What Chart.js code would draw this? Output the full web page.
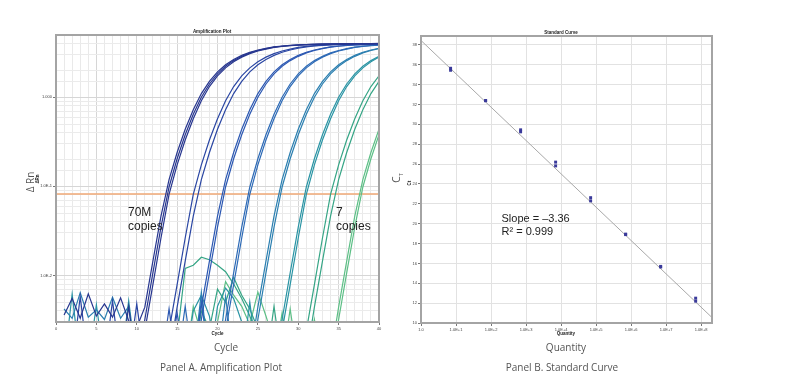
<!DOCTYPE html>
<html>
<head>
<meta charset="utf-8">
<script src="https://cdn.jsdelivr.net/npm/chart.js@4.4.0/dist/chart.umd.min.js"></script>
<style>
  html, body { margin: 0; padding: 0; background: #fff; }
  body { width: 791px; height: 379px; position: relative; overflow: hidden; font-family: "Open Sans", sans-serif; }
  canvas { position: absolute; top: 0; }
  #ampCanvas { left: 0; }
  #stdCanvas { left: 395px; }
  .lbl { position: absolute; white-space: nowrap; color: #555; font-size: 10px; line-height: 1; transform: translate(-50%, -50%); }
  .tiny { position: absolute; white-space: nowrap; font-family: "Liberation Sans", Arial, sans-serif; font-weight: bold; font-size: 4.5px; line-height: 1; color: #222; transform: translate(-50%, -50%); }
  .rot { transform: translate(-50%, -50%) rotate(-90deg); }
  .note { position: absolute; white-space: nowrap; font-family: "Liberation Sans", Arial, sans-serif; color: #222; }
</style>
</head>
<body>
<canvas id="ampCanvas" width="395" height="379"></canvas>
<canvas id="stdCanvas" width="396" height="379"></canvas>

<div class="tiny" style="left:212px; top:32px;">Amplification Plot</div>
<div class="tiny" style="left:561px; top:32.5px;">Standard Curve</div>
<div class="tiny" style="left:217.5px; top:334px;">Cycle</div>
<div class="tiny" style="left:566px; top:334px;">Quantity</div>
<div class="tiny rot" style="left:38px; top:178.5px;">&Delta;Rn</div>
<div class="tiny rot" style="left:410px; top:183px;">Ct</div>

<div class="lbl" style="left:226px; top:347px;">Cycle</div>
<div class="lbl" style="left:566px; top:347px;">Quantity</div>
<div class="lbl" style="left:221px; top:367px;">Panel A. Amplification Plot</div>
<div class="lbl" style="left:562px; top:367px;">Panel B. Standard Curve</div>
<div class="lbl rot" style="left:29.5px; top:182px;">&Delta; Rn</div>
<div class="lbl rot" style="left:397px; top:178px;">C<sub style="font-size:6px;">T</sub></div>

<div class="note" style="left:128px; top:204.5px; font-size:12px; line-height:14px;">70M<br>copies</div>
<div class="note" style="left:336px; top:204.5px; font-size:12px; line-height:14px;">7<br>copies</div>
<div class="note" style="left:501.5px; top:212px; font-size:11px; line-height:13px;">Slope = &ndash;3.36<br>R&sup2; = 0.999</div>

<script>
// ---- Panel A: amplification data (delta Rn per cycle) ----
var cycles = [1, 2, 3, 4, 5, 6, 7, 8, 9, 10, 11, 12, 13, 14, 15, 16, 17, 18, 19, 20,
              21, 22, 23, 24, 25, 26, 27, 28, 29, 30, 31, 32, 33, 34, 35, 36, 37, 38, 39, 40];

// 70M copies
var copies70Ma = [0.0036, 0.0055, 0.0033, 0.0062, 0.0035, 0.0048, 0.0034, 0.0056, 0.0031, 0.0026,
                  0.0044, 0.0145, 0.0462, 0.119, 0.240, 0.437, 0.724, 1.10, 1.51, 1.93,
                  2.32, 2.66, 2.95, 3.20, 3.39, 3.55, 3.67, 3.76, 3.82, 3.87,
                  3.90, 3.93, 3.95, 3.97, 3.98, 3.99, 4.00, 4.00, 4.01, 4.02];
var copies70Mb = [0.001, 0.001, 0.001, 0.001, 0.001, 0.001, 0.001, 0.001, 0.0045, 0.00088,
                  0.0032, 0.0107, 0.0349, 0.0983, 0.204, 0.380, 0.646, 1.00, 1.41, 1.83,
                  2.23, 2.58, 2.88, 3.15, 3.35, 3.51, 3.65, 3.74, 3.81, 3.86,
                  3.89, 3.92, 3.94, 3.96, 3.97, 3.98, 3.99, 4.00, 4.00, 4.01];
var copies70Mc = [0.001, 0.001, 0.001, 0.001, 0.001, 0.001, 0.001, 0.001, 0.001, 0.00063,
                  0.0024, 0.0079, 0.0263, 0.0813, 0.174, 0.331, 0.575, 0.912, 1.32, 1.74,
                  2.14, 2.51, 2.82, 3.09, 3.31, 3.47, 3.63, 3.72, 3.80, 3.85,
                  3.89, 3.92, 3.94, 3.96, 3.97, 3.98, 3.99, 4.00, 4.00, 4.00];
// 7M copies
var copies7Ma = [0.001, 0.001, 0.0058, 0.001, 0.001, 0.001, 0.0052, 0.001, 0.001, 0.0048,
                 0.001, 0.001, 0.00063, 0.0024, 0.0079, 0.0263, 0.0813, 0.174, 0.331, 0.575,
                 0.912, 1.32, 1.74, 2.14, 2.51, 2.82, 3.09, 3.31, 3.47, 3.63,
                 3.72, 3.80, 3.85, 3.89, 3.92, 3.94, 3.96, 3.97, 3.98, 3.99];
var copies7Mb = [0.001, 0.001, 0.001, 0.001, 0.001, 0.001, 0.001, 0.001, 0.001, 0.001,
                 0.001, 0.001, 0.0005, 0.0012, 0.0044, 0.0145, 0.0462, 0.119, 0.240, 0.437,
                 0.724, 1.10, 1.51, 1.93, 2.32, 2.66, 2.95, 3.20, 3.39, 3.55,
                 3.67, 3.76, 3.82, 3.87, 3.90, 3.93, 3.95, 3.97, 3.98, 3.99];
// 700k copies
var copies700ka = [0.001, 0.001, 0.001, 0.001, 0.001, 0.001, 0.001, 0.001, 0.001, 0.001,
                   0.001, 0.001, 0.001, 0.0042, 0.001, 0.0005, 0.0012, 0.0044, 0.0145, 0.0462,
                   0.119, 0.240, 0.437, 0.724, 1.10, 1.51, 1.93, 2.32, 2.66, 2.95,
                   3.20, 3.39, 3.55, 3.67, 3.76, 3.82, 3.87, 3.90, 3.93, 3.95];
var copies700kb = [0.001, 0.001, 0.001, 0.001, 0.001, 0.001, 0.001, 0.001, 0.001, 0.001,
                   0.001, 0.001, 0.001, 0.001, 0.0038, 0.001, 0.00088, 0.0032, 0.0107, 0.0349,
                   0.0983, 0.204, 0.380, 0.646, 1.00, 1.41, 1.83, 2.23, 2.58, 2.88,
                   3.15, 3.35, 3.51, 3.65, 3.74, 3.81, 3.86, 3.89, 3.92, 3.94];
// 70k copies
var copies70ka = [0.001, 0.001, 0.001, 0.001, 0.001, 0.001, 0.001, 0.001, 0.001, 0.001,
                  0.001, 0.001, 0.001, 0.001, 0.001, 0.0045, 0.001, 0.001, 0.001, 0.00088,
                  0.0032, 0.0107, 0.0349, 0.0983, 0.204, 0.380, 0.646, 1.00, 1.41, 1.83,
                  2.23, 2.58, 2.88, 3.15, 3.35, 3.51, 3.65, 3.74, 3.81, 3.86];
var copies70kb = [0.001, 0.001, 0.001, 0.001, 0.001, 0.001, 0.001, 0.001, 0.001, 0.001,
                  0.001, 0.001, 0.001, 0.001, 0.001, 0.001, 0.001, 0.0052, 0.001, 0.00063,
                  0.0024, 0.0079, 0.0263, 0.0813, 0.174, 0.331, 0.575, 0.912, 1.32, 1.74,
                  2.14, 2.51, 2.82, 3.09, 3.31, 3.47, 3.63, 3.72, 3.80, 3.85];
// 7k copies
var copies7ka = [0.0042, 0.0033, 0.0064, 0.0034, 0.0041, 0.0032, 0.0057, 0.0033, 0.0045, 0.001,
                 0.001, 0.001, 0.001, 0.001, 0.001, 0.001, 0.001, 0.001, 0.001, 0.001,
                 0.0058, 0.001, 0.0005, 0.0012, 0.0044, 0.0145, 0.0462, 0.119, 0.240, 0.437,
                 0.724, 1.10, 1.51, 1.93, 2.32, 2.66, 2.95, 3.20, 3.39, 3.55];
var copies7kb = [0.001, 0.001, 0.001, 0.001, 0.001, 0.001, 0.001, 0.001, 0.001, 0.001,
                 0.001, 0.001, 0.001, 0.001, 0.001, 0.001, 0.001, 0.0065, 0.001, 0.001,
                 0.001, 0.001, 0.001, 0.00088, 0.0032, 0.0107, 0.0349, 0.0983, 0.204, 0.380,
                 0.646, 1.00, 1.41, 1.83, 2.23, 2.58, 2.88, 3.15, 3.35, 3.51];
// 700 copies
var copies700a = [0.001, 0.0062, 0.001, 0.001, 0.0047, 0.001, 0.001, 0.001, 0.0052, 0.001,
                  0.001, 0.001, 0.001, 0.001, 0.001, 0.001, 0.004, 0.006, 0.0035, 0.001,
                  0.001, 0.001, 0.001, 0.005, 0.001, 0.001, 0.00088, 0.0032, 0.0107, 0.0349,
                  0.0983, 0.204, 0.380, 0.646, 1.00, 1.41, 1.83, 2.23, 2.58, 2.88];
var copies700b = [0.001, 0.001, 0.001, 0.001, 0.001, 0.001, 0.001, 0.001, 0.001, 0.001,
                  0.001, 0.001, 0.001, 0.001, 0.001, 0.001, 0.001, 0.001, 0.001, 0.0045,
                  0.0072, 0.0055, 0.003, 0.001, 0.001, 0.001, 0.00063, 0.0024, 0.0079, 0.0263,
                  0.0813, 0.174, 0.331, 0.575, 0.912, 1.32, 1.74, 2.14, 2.51, 2.82];
// 70 copies
var copies70a = [0.001, 0.001, 0.001, 0.001, 0.001, 0.001, 0.001, 0.001, 0.001, 0.001,
                 0.001, 0.001, 0.001, 0.001, 0.002, 0.012, 0.013, 0.016, 0.015, 0.013,
                 0.011, 0.008, 0.0055, 0.0035, 0.002, 0.001, 0.001, 0.001, 0.001, 0.00063,
                 0.0024, 0.0079, 0.0263, 0.0813, 0.174, 0.331, 0.575, 0.912, 1.32, 1.74];
var copies70b = [0.001, 0.001, 0.001, 0.001, 0.001, 0.001, 0.001, 0.001, 0.001, 0.001,
                 0.001, 0.001, 0.001, 0.001, 0.001, 0.001, 0.001, 0.004, 0.0025, 0.007,
                 0.005, 0.0095, 0.006, 0.0042, 0.0025, 0.001, 0.0045, 0.001, 0.001, 0.0005,
                 0.0012, 0.0044, 0.0145, 0.0462, 0.119, 0.240, 0.437, 0.724, 1.10, 1.51];
// 7 copies
var copies7a = [0.001, 0.001, 0.001, 0.001, 0.001, 0.001, 0.001, 0.001, 0.001, 0.001,
                0.001, 0.001, 0.001, 0.001, 0.001, 0.001, 0.001, 0.001, 0.001, 0.003,
                0.0085, 0.006, 0.0045, 0.0028, 0.0065, 0.0035, 0.0018, 0.001, 0.0042, 0.001,
                0.001, 0.001, 0.0005, 0.0012, 0.0044, 0.0145, 0.0462, 0.119, 0.240, 0.437];
var copies7b = [0.001, 0.001, 0.001, 0.001, 0.001, 0.001, 0.001, 0.001, 0.001, 0.001,
                0.001, 0.001, 0.001, 0.001, 0.001, 0.001, 0.0045, 0.0022, 0.001, 0.001,
                0.001, 0.001, 0.001, 0.001, 0.001, 0.001, 0.001, 0.0038, 0.001, 0.001,
                0.001, 0.0032, 0.001, 0.00088, 0.0032, 0.0107, 0.0349, 0.0983, 0.204, 0.380];

var threshold = 0.082;
var ampYTicks = [0.01, 0.1, 1];
var ampYTickLabels = ['1.0E-2', '1.0E-1', '1.000'];

// ---- Panel B: standard curve data ----
var quantities = [7, 70, 700, 7000, 70000, 700000, 7000000, 70000000];
var ctRep1 = [35.65, 32.40, 29.45, 26.20, 22.62, 18.95, 15.70, 12.50];
var ctRep2 = [35.45, 32.38, 29.25, 25.82, 22.30, 18.90, 15.64, 12.20];
var fitQuantity = [1, 205000000];
var fitCt = [38.45, 10.55];
var quantityTicks = [1, 10, 100, 1000, 10000, 100000, 1000000, 10000000, 100000000];
var quantityTickLabels = ['1.0', '1.0E+1', '1.0E+2', '1.0E+3', '1.0E+4', '1.0E+5', '1.0E+6', '1.0E+7', '1.0E+8'];
var ctTicks = [10, 12, 14, 16, 18, 20, 22, 24, 26, 28, 30, 32, 34, 36, 38];

// ---- styling ----
var groups = [
    { color: '#27368f', reps: [copies70Ma, copies70Mb, copies70Mc] },
    { color: '#2a46a3', reps: [copies7Ma, copies7Mb] },
    { color: '#2c58b2', reps: [copies700ka, copies700kb] },
    { color: '#2d6ab6', reps: [copies70ka, copies70kb] },
    { color: '#2b7fb0', reps: [copies7ka, copies7kb] },
    { color: '#2a94a4', reps: [copies700a, copies700b] },
    { color: '#35a585', reps: [copies70a, copies70b] },
    { color: '#5dbf86', reps: [copies7a, copies7b] }
];

var tickFont = { family: 'Liberation Sans', size: 4 };

var frame = {
    id: 'frame',
    afterDatasetsDraw: function (chart) {
        var ctx = chart.ctx, a = chart.chartArea;
        ctx.save();
        ctx.strokeStyle = '#a4a4a4';
        ctx.lineWidth = 2;
        ctx.strokeRect(a.left, a.top, a.right - a.left, a.bottom - a.top);
        ctx.restore();
    }
};

function isDecade(v) {
    var l = Math.log10(v);
    return Math.abs(l - Math.round(l)) < 1e-6;
}

document.addEventListener('DOMContentLoaded', function () {
    var ampSets = [];
    groups.forEach(function (g) {
        g.reps.forEach(function (vals) {
            ampSets.push({
                data: cycles.map(function (c, i) { return { x: c, y: vals[i] }; }),
                borderColor: g.color,
                borderWidth: 1.2,
                pointRadius: 0,
                tension: 0
            });
        });
    });
    ampSets.push({
        data: [{ x: 0, y: threshold }, { x: 40, y: threshold }],
        borderColor: 'rgba(240, 172, 125, 0.8)',
        borderWidth: 2,
        pointRadius: 0
    });

    var ampCtx = document.getElementById('ampCanvas').getContext('2d');
    var ampChart = new Chart(ampCtx, {
        type: 'line',
        data: { datasets: ampSets },
        options: {
            responsive: false,
            animation: false,
            layout: { padding: { left: 33, right: 16, top: 35, bottom: 43 } },
            plugins: { legend: { display: false }, tooltip: { enabled: false } },
            scales: {
                x: {
                    type: 'linear',
                    min: 0,
                    max: 40,
                    afterFit: function (s) { s.height = 14; },
                    ticks: {
                        stepSize: 1,
                        autoSkip: false,
                        maxRotation: 0,
                        padding: 1,
                        font: tickFont,
                        color: '#444',
                        callback: function (v) { return v % 5 === 0 ? String(v) : ''; }
                    },
                    grid: {
                        color: function (c) { return c.tick && c.tick.value % 5 === 0 ? '#d6d6d6' : '#e9e9e9'; },
                        tickColor: function (c) { return c.tick && c.tick.value % 5 === 0 ? '#777' : 'rgba(0,0,0,0)'; },
                        tickLength: 3
                    },
                    border: { display: false }
                },
                y: {
                    type: 'logarithmic',
                    min: 0.003,
                    max: 5,
                    afterFit: function (s) { s.width = 23; },
                    ticks: {
                        autoSkip: false,
                        padding: 1,
                        font: tickFont,
                        color: '#444',
                        callback: function (v) {
                            for (var i = 0; i < ampYTicks.length; i++) {
                                if (Math.abs(ampYTicks[i] - v) / ampYTicks[i] < 1e-6) return ampYTickLabels[i];
                            }
                            return '';
                        }
                    },
                    grid: {
                        color: function (c) { return c.tick && isDecade(c.tick.value) ? '#d6d6d6' : '#ebebeb'; },
                        tickColor: function (c) { return c.tick && isDecade(c.tick.value) ? '#777' : 'rgba(0,0,0,0)'; },
                        tickLength: 3
                    },
                    border: { display: false }
                }
            }
        },
        plugins: [frame]
    });

    var stdCtx = document.getElementById('stdCanvas').getContext('2d');
    var markerStyle = {
        type: 'scatter',
        pointStyle: 'rect',
        pointRadius: 2.1,
        backgroundColor: '#3a3a9a',
        borderColor: '#3a3a9a',
        borderWidth: 0
    };
    var stdChart = new Chart(stdCtx, {
        type: 'scatter',
        data: {
            datasets: [
                Object.assign({ data: quantities.map(function (q, i) { return { x: q, y: ctRep1[i] }; }) }, markerStyle),
                Object.assign({ data: quantities.map(function (q, i) { return { x: q, y: ctRep2[i] }; }) }, markerStyle),
                {
                    type: 'line',
                    data: fitQuantity.map(function (q, i) { return { x: q, y: fitCt[i] }; }),
                    borderColor: '#a8a8a8',
                    borderWidth: 1,
                    pointRadius: 0
                }
            ]
        },
        options: {
            responsive: false,
            animation: false,
            layout: { padding: { left: 10, right: 79, top: 36, bottom: 42 } },
            plugins: { legend: { display: false }, tooltip: { enabled: false } },
            scales: {
                x: {
                    type: 'logarithmic',
                    min: 1,
                    max: 205000000,
                    afterFit: function (s) { s.height = 14; },
                    afterBuildTicks: function (s) {
                        s.ticks = quantityTicks.map(function (v) { return { value: v }; });
                    },
                    ticks: {
                        autoSkip: false,
                        maxRotation: 0,
                        padding: 1,
                        font: tickFont,
                        color: '#444',
                        callback: function (v, i) { return quantityTickLabels[i]; }
                    },
                    grid: { color: '#e2e2e2', tickColor: '#777', tickLength: 3 },
                    border: { display: false }
                },
                y: {
                    type: 'linear',
                    min: 10,
                    max: 38.9,
                    afterFit: function (s) { s.width = 16; },
                    afterBuildTicks: function (s) {
                        s.ticks = ctTicks.map(function (v) { return { value: v }; });
                    },
                    ticks: {
                        autoSkip: false,
                        padding: 1,
                        font: tickFont,
                        color: '#444'
                    },
                    grid: { color: '#e2e2e2', tickColor: '#777', tickLength: 3 },
                    border: { display: false }
                }
            }
        },
        plugins: [frame]
    });
});
</script>
</body>
</html>
